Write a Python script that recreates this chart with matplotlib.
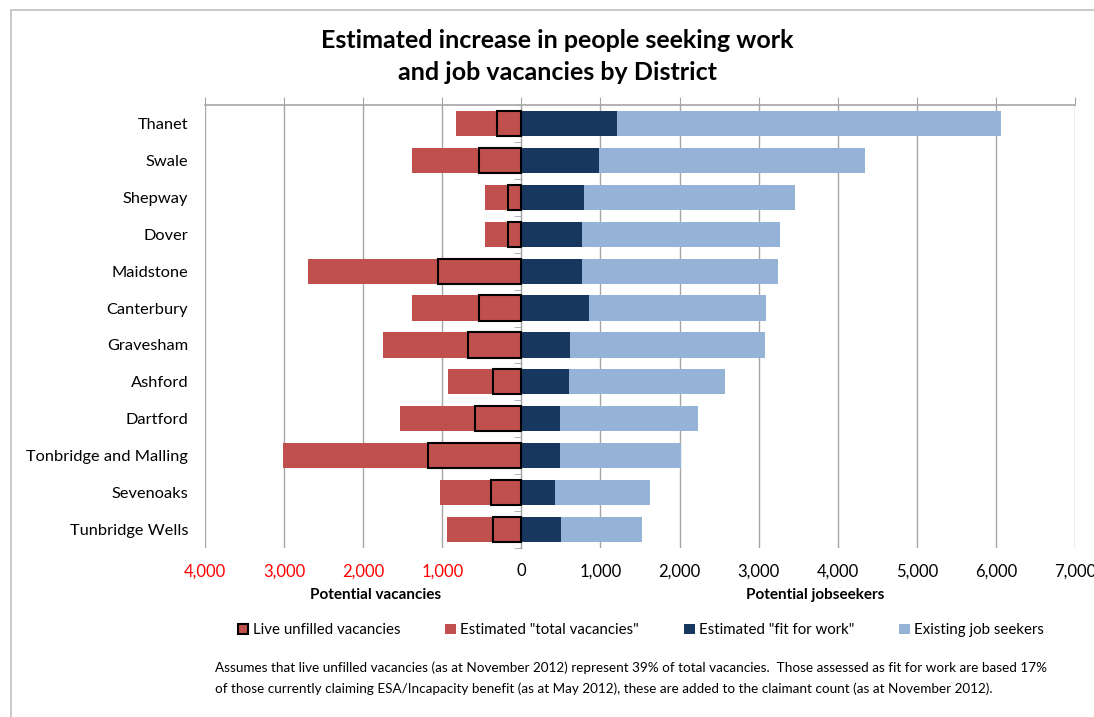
import numpy as np
import matplotlib
matplotlib.use('Agg')
import matplotlib.pyplot as plt
from matplotlib.patches import Patch, Rectangle
from matplotlib.ticker import FuncFormatter, FixedLocator

plt.rcParams['font.family'] = ['Lato', 'DejaVu Sans']

districts = ['Thanet', 'Swale', 'Shepway', 'Dover', 'Maidstone', 'Canterbury',
             'Gravesham', 'Ashford', 'Dartford', 'Tonbridge and Malling',
             'Sevenoaks', 'Tunbridge Wells']
live_vacancies = [310, 532, 165, 170, 1050, 532, 680, 354, 590, 1177, 390, 354]
total_vacancies = [823, 1380, 455, 455, 2704, 1380, 1747, 924, 1537, 3019, 1030, 940]
fit_for_work = [1215, 987, 789, 765, 770, 860, 616, 608, 494, 494, 422, 506]
existing_seekers = [4845, 3360, 2666, 2507, 2480, 2232, 2464, 1962, 1738, 1519, 1202, 1013]

tick_values = [-4000, -3000, -2000, -1000, 0, 1000, 2000, 3000, 4000, 5000, 6000, 7000]

c_red = '#C0504D'
c_navy = '#17375E'
c_light = '#95B3D7'
c_grid = '#A6A6A6'

fig = plt.figure(figsize=(10.94, 7.17), dpi=100)
ax = fig.add_axes([205/1094, 1-548/717, 870/1094, 443/717])

y = np.arange(len(districts))
h = 0.68

ax.barh(y, -np.array(total_vacancies), height=h, color=c_red, zorder=3)
ax.barh(y, -np.array(live_vacancies), height=h, color=c_red, edgecolor='black',
        linewidth=1.5, zorder=4)
ax.barh(y, fit_for_work, height=h, color=c_navy, zorder=3)
ax.barh(y, existing_seekers, left=fit_for_work, height=h, color=c_light, zorder=3)

ax.set_xlim(-4000, 7000)
ax.set_ylim(len(districts)-0.5, -0.5)

ax.xaxis.set_major_locator(FixedLocator(tick_values))
ax.xaxis.set_major_formatter(FuncFormatter(lambda v, p: f'{abs(int(v)):,}'))
ax.grid(axis='x', color=c_grid, linewidth=1, zorder=0)
ax.tick_params(axis='x', bottom=False, top=True, direction='out', length=6,
               color=c_grid, labelsize=12, pad=5)
for lab, v in zip(ax.get_xticklabels(), tick_values):
    lab.set_color('red' if v < 0 else 'black')

ax.set_yticks(y)
ax.set_yticklabels(districts, fontsize=11.8)
ax.tick_params(axis='y', left=False, length=0, pad=12)

for s in ['left', 'right', 'bottom']:
    ax.spines[s].set_visible(False)
ax.spines['top'].set_color(c_grid)
ax.spines['top'].set_linewidth(1.2)

# vertical axis at zero with marks between districts
sec = ax.secondary_yaxis(4/11)
sec.set_yticks([])
sec.set_yticks(np.arange(len(districts)+1) - 0.5, minor=True)
sec.tick_params(which='minor', direction='out', length=5, color=c_grid, labelleft=False)
sec.spines['left'].set_color('#7F7F7F')

fig.text(557/1094, 1-40/717, 'Estimated increase in people seeking work',
         ha='center', va='center', fontsize=18, fontweight='bold')
fig.text(557/1094, 1-73/717, 'and job vacancies by District',
         ha='center', va='center', fontsize=18, fontweight='bold')

fig.text(376/1094, 1-595/717, 'Potential vacancies', ha='center', va='center',
         fontsize=11, fontweight='bold')
fig.text(815/1094, 1-595/717, 'Potential jobseekers', ha='center', va='center',
         fontsize=11, fontweight='bold')

handles = [Patch(facecolor=c_red, edgecolor='black', linewidth=1.5),
           Patch(facecolor=c_red), Patch(facecolor=c_navy), Patch(facecolor=c_light)]
labels = ['Live unfilled vacancies', 'Estimated "total vacancies"',
          'Estimated "fit for work"', 'Existing job seekers']
fig.legend(handles, labels, loc='center', bbox_to_anchor=(641/1094, 1-630/717),
           ncol=4, frameon=False, fontsize=10.8, handlelength=0.7, handleheight=0.7,
           handletextpad=0.3, columnspacing=3.0)

fig.text(215/1094, 1-668/717,
         'Assumes that live unfilled vacancies (as at November 2012) represent 39% of total vacancies.  '
         'Those assessed as fit for work are based 17%', fontsize=9.7, va='center')
fig.text(215/1094, 1-689/717,
         'of those currently claiming ESA/Incapacity benefit (as at May 2012), these are added '
         'to the claimant count (as at November 2012).', fontsize=9.7, va='center')

fig.patches.append(Rectangle((11/1094, -0.1), 1.2, 1-10/717+0.1, transform=fig.transFigure,
                             fill=False, edgecolor='#BFBFBF', linewidth=1.2))

fig.savefig('out.png', dpi=100)
